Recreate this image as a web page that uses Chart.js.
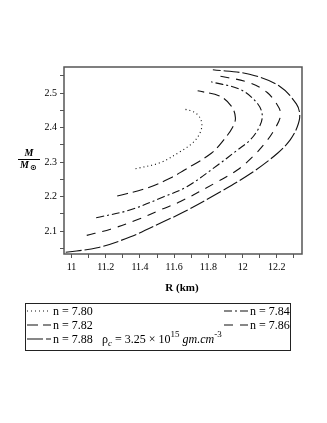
<!DOCTYPE html>
<html>
<head>
<meta charset="utf-8">
<script src="https://cdn.jsdelivr.net/npm/chart.js@4"></script>
<style>
	html, body { margin: 0; padding: 0; background: #fff; }
	#cadre { width: 327px; height: 423px; }
</style>
</head>
<body>
<div id="cadre"><canvas id="graphique-mr"></canvas></div>
<script>
// valeurs : R (km) et M/Msun pour chaque n
const r780 = [11.374, 11.520, 11.636, 11.708, 11.748, 11.762, 11.748, 11.713, 11.661];
const m780 = [2.281, 2.299, 2.331, 2.356, 2.382, 2.408, 2.431, 2.446, 2.454];

const r782 = [11.267, 11.441, 11.578, 11.655, 11.817, 11.890, 11.940, 11.958, 11.935, 11.865, 11.737];
const m782 = [2.202, 2.225, 2.254, 2.276, 2.326, 2.365, 2.400, 2.428, 2.462, 2.492, 2.507];

const r784 = [11.144, 11.345, 11.539, 11.674, 11.855, 11.971, 12.045, 12.095, 12.115, 12.090, 11.990, 11.816];
const m784 = [2.139, 2.162, 2.200, 2.229, 2.292, 2.336, 2.365, 2.400, 2.434, 2.468, 2.510, 2.533];

const r786 = [11.089, 11.228, 11.383, 11.520, 11.636, 11.855, 11.971, 12.069, 12.146, 12.191, 12.220, 12.213, 12.144, 12.037, 11.842];
const m786 = [2.088, 2.106, 2.133, 2.162, 2.186, 2.244, 2.278, 2.321, 2.365, 2.399, 2.431, 2.457, 2.502, 2.531, 2.552];

const r788 = [10.966, 11.150, 11.345, 11.539, 11.661, 11.855, 12.049, 12.204, 12.278, 12.319, 12.334, 12.314, 12.214, 12.040, 11.826];
const m788 = [2.039, 2.052, 2.084, 2.128, 2.157, 2.210, 2.268, 2.326, 2.365, 2.402, 2.437, 2.469, 2.521, 2.555, 2.568];

const nLabels = ["n = 7.80", "n = 7.82", "n = 7.84", "n = 7.86", "n = 7.88"];

const xTicks = [11, 11.1, 11.2, 11.3, 11.4, 11.5, 11.6, 11.7, 11.8, 11.9, 12, 12.1, 12.2, 12.3];
const xTickLabels = ["11", "", "11.2", "", "11.4", "", "11.6", "", "11.8", "", "12", "", "12.2", ""];
const yTicks = [2.05, 2.1, 2.15, 2.2, 2.25, 2.3, 2.35, 2.4, 2.45, 2.5, 2.55];
const yTickLabels = ["", "2.1", "", "2.2", "", "2.3", "", "2.4", "", "2.5", ""];

const serif = "'Liberation Serif', 'Times New Roman', serif";

function points(r, m) {
	return r.map((v, i) => ({x: v, y: m[i]}));
}

const courbes = [
	{r: r780, m: m780, dash: [1, 3]},
	{r: r782, m: m782, dash: [11, 5]},
	{r: r784, m: m784, dash: [8, 3, 2, 3]},
	{r: r786, m: m786, dash: [9, 7]},
	{r: r788, m: m788, dash: [16, 3]},
];

const datasets = courbes.map((c, i) => ({
	label: nLabels[i],
	data: points(c.r, c.m),
	borderColor: "#111",
	borderWidth: 1.1,
	borderDash: c.dash,
	pointRadius: 0,
	showLine: true,
	fill: false,
	tension: 0.35,
}));

// cadre, titres des axes et legende dessines a la main
const decor = {
	id: "decor",
	afterDraw(chart) {
		const ctx = chart.ctx;
		const a = chart.chartArea;
		ctx.save();
		ctx.setLineDash([]);
		ctx.strokeStyle = "#555";
		ctx.lineWidth = 1.5;
		ctx.strokeRect(a.left, a.top, a.right - a.left, a.bottom - a.top);

		ctx.fillStyle = "#000";
		ctx.textAlign = "center";
		ctx.textBaseline = "middle";
		ctx.font = "bold 11px " + serif;
		ctx.fillText("R (km)", 182, 288);

		// M / M(sun)
		ctx.font = "italic bold 10px " + serif;
		ctx.fillText("M", 29, 153);
		ctx.strokeStyle = "#000";
		ctx.lineWidth = 1;
		ctx.beginPath();
		ctx.moveTo(18, 159.5);
		ctx.lineTo(40, 159.5);
		ctx.stroke();
		ctx.textAlign = "left";
		ctx.fillText("M", 20, 165);
		ctx.font = "bold 8px 'DejaVu Sans'";
		ctx.fillText("\u2299", 30, 168);

		// legende
		ctx.strokeStyle = "#222";
		ctx.lineWidth = 1;
		ctx.strokeRect(25.5, 303.5, 265, 47);
		const places = [
			{x: 27, y: 311}, {x: 27, y: 325}, {x: 224, y: 311}, {x: 224, y: 325}, {x: 27, y: 339},
		];
		ctx.font = "12px " + serif;
		ctx.textBaseline = "middle";
		chart.data.datasets.forEach((ds, i) => {
			const p = places[i];
			ctx.strokeStyle = "#111";
			ctx.lineWidth = 1.1;
			ctx.setLineDash(ds.borderDash);
			ctx.beginPath();
			ctx.moveTo(p.x, p.y);
			ctx.lineTo(p.x + 24, p.y);
			ctx.stroke();
			ctx.setLineDash([]);
			ctx.fillText(ds.label, p.x + 26, p.y + 1);
		});

		// rho_c = 3.25 x 10^15 gm.cm^-3
		let x = 102;
		const y = 340;
		const morceau = (txt, font, dy) => {
			ctx.font = font;
			ctx.fillText(txt, x, y + dy);
			x += ctx.measureText(txt).width;
		};
		morceau("\u03c1", "12px " + serif, 0);
		morceau("c", "italic 9px " + serif, 4);
		morceau(" = 3.25 \u00d7 10", "12px " + serif, 0);
		morceau("15", "9px " + serif, -5);
		morceau(" gm.cm", "italic 12px " + serif, 0);
		morceau("-3", "9px " + serif, -5);
		ctx.restore();
	}
};

new Chart(document.querySelector("#graphique-mr"), {
	type: "scatter",
	data: {datasets: datasets},
	options: {
		responsive: true,
		maintainAspectRatio: false,
		animation: false,
		events: [],
		layout: {padding: {top: 67, right: 25, left: 0, bottom: 0}},
		plugins: {legend: {display: false}, tooltip: {enabled: false}},
		scales: {
			x: {
				type: "linear",
				min: 10.956,
				max: 12.347,
				afterBuildTicks: s => { s.ticks = xTicks.map(v => ({value: v})); },
				afterFit: s => { s.height = 169; },
				border: {display: false},
				grid: {drawOnChartArea: false, drawTicks: true, tickLength: 4, color: "#555"},
				ticks: {
					autoSkip: false,
					maxRotation: 0,
					padding: 3,
					color: "#000",
					font: {family: serif, size: 10},
					callback: (v, i) => xTickLabels[i],
				},
			},
			y: {
				type: "linear",
				min: 2.034,
				max: 2.576,
				afterBuildTicks: s => { s.ticks = yTicks.map(v => ({value: v})); },
				afterFit: s => { s.width = 64; },
				border: {display: false},
				grid: {drawOnChartArea: false, drawTicks: true, tickLength: 4, color: "#555"},
				ticks: {
					autoSkip: false,
					padding: 3,
					color: "#000",
					font: {family: serif, size: 10},
					callback: (v, i) => yTickLabels[i],
				},
			},
		},
	},
	plugins: [decor],
});
</script>
</body>
</html>
